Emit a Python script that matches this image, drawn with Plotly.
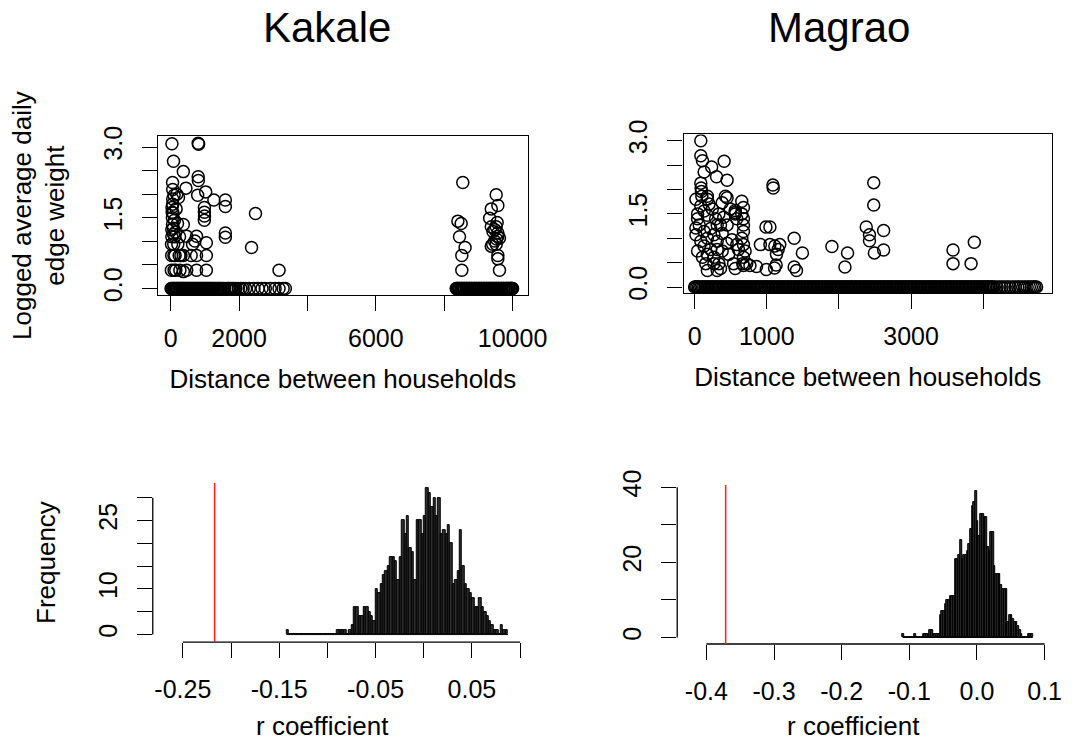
import plotly.graph_objects as go

W, H = 1084, 746
FONT = "Liberation Sans, Arial, Helvetica, sans-serif"

# ------------------------------------------------------------------ data
# Kakale: distances of household pairs with zero edge weight
kak_zero_dist = [
    12, 35, 61, 88, 104, 131, 160, 187, 205, 238, 262, 291, 318, 344, 372, 395,
    428, 451, 480, 507, 533, 566, 590, 617, 648, 671, 702, 729, 755, 786, 812,
    840, 869, 893, 925, 951, 978, 1006, 1034, 1061, 1090, 1118, 1147, 1172, 1201,
    1230, 1262, 1290, 1331, 1372, 1400, 1446, 1480, 1530, 1570, 1640, 1684, 1714,
    1765, 1810, 1860, 1906, 1980, 2050, 2120, 2193, 2300, 2433, 2560, 2672, 2768,
    2912, 3055, 3170, 3290, 3355,
    8352, 8371, 8390, 8421, 8440, 8460, 8497, 8515, 8530, 8566, 8585, 8602, 8641,
    8660, 8675, 8712, 8730, 8750, 8783, 8801, 8820, 8858, 8875, 8891, 8930, 8947,
    8965, 9002, 9020, 9040, 9071, 9090, 9110, 9146, 9163, 9180, 9218, 9236, 9255,
    9290, 9310, 9328, 9362, 9381, 9400, 9437, 9452, 9470, 9508, 9526, 9545, 9580,
    9598, 9617, 9652, 9671, 9690, 9725, 9743, 9760, 9798, 9816, 9835, 9870, 9888,
    9905, 9942, 9960, 9975, 9990, 10000,
]
# Kakale: pairs with a positive logged edge weight
kak_edge_dist = [
    37, 805, 818, 83, 370, 56, 60, 448, 805, 810,
    1025, 790, 1264, 1600, 1600, 180, 230, 987, 987, 990,
    985, 40, 45, 50, 55, 80, 85, 90, 95, 100,
    120, 130, 150, 370, 468, 757, 707, 1044, 1044, 757,
    757, 468, 1600, 1600, 2481, 2366, 3170, 200, 210, 250,
    270, 300, 160, 60, 70, 110, 140, 20, 30, 25,
    35, 35, 60, 100, 260, 372, 372, 1044, 640, 600,
    8545, 8401, 8497, 8449, 8612, 8516, 8516, 9522, 9570, 9378,
    9330, 9378, 9426, 9522, 9570, 9570, 9474, 9618, 9378, 9522,
    9570, 9570, 9618, 9480, 9530, 9420, 9550,
]
kak_edge_weight = [
    3.07, 3.08, 3.06, 2.70, 2.48, 2.25, 2.10, 2.13, 2.37, 2.29,
    2.05, 1.98, 1.88, 1.88, 1.74, 2.00, 1.93, 1.72, 1.62, 1.54,
    1.45, 1.72, 1.62, 1.50, 1.36, 1.28, 1.15, 0.94, 0.70, 0.39,
    1.10, 0.70, 0.39, 1.36, 1.11, 1.11, 1.01, 0.97, 0.70, 0.70,
    0.39, 0.39, 1.18, 1.09, 1.59, 0.87, 0.39, 1.38, 0.94, 0.70,
    0.39, 0.70, 1.69, 1.79, 1.60, 1.45, 1.20, 0.39, 0.70, 0.94,
    1.10, 1.25, 1.90, 1.98, 1.10, 0.70, 0.36, 0.39, 0.94, 0.70,
    2.25, 1.43, 1.38, 1.10, 0.87, 0.70, 0.39, 1.99, 1.76, 1.69,
    1.49, 1.31, 1.21, 1.31, 1.18, 1.11, 1.01, 1.07, 0.90, 0.94,
    0.70, 0.63, 0.39, 1.25, 1.05, 0.94, 1.40,
]

# Magrao: distances of household pairs with zero edge weight
mag_zero_dist = [
    0, 14, 31, 52, 70, 88, 109, 127, 146, 168, 186, 203, 225, 244, 262, 283, 301,
    318, 340, 357, 378, 396, 415, 437, 455, 472, 494, 511, 532, 550, 569, 590, 608,
    627, 648, 665, 687, 705, 724, 745, 763, 781, 803, 820, 842, 860, 879, 900, 918,
    937, 958, 976, 997, 1015, 1034, 1055, 1073, 1092, 1113, 1131, 1150, 1172, 1190,
    1209, 1230, 1248, 1267, 1288, 1306, 1326, 1347, 1365, 1384, 1405, 1423, 1443,
    1464, 1482, 1501, 1522, 1540, 1560, 1581, 1599, 1618, 1639, 1657, 1677, 1698,
    1716, 1735, 1756, 1774, 1794, 1815, 1833, 1852, 1873, 1891, 1911, 1932, 1950,
    1969, 1990, 2008, 2028, 2049, 2067, 2086, 2107, 2125, 2145, 2166, 2184, 2203,
    2224, 2242, 2262, 2283, 2301, 2320, 2341, 2359, 2379, 2400, 2418, 2437, 2458,
    2476, 2496, 2517, 2535, 2554, 2575, 2593, 2613, 2634, 2652, 2671, 2692, 2710,
    2730, 2751, 2769, 2788, 2809, 2827, 2847, 2868, 2886, 2905, 2926, 2944, 2964,
    2985, 3003, 3022, 3043, 3061, 3081, 3102, 3120, 3139, 3160, 3178, 3198, 3219,
    3237, 3256, 3277, 3295, 3315, 3336, 3354, 3373, 3394, 3412, 3432, 3453, 3471,
    3490, 3511, 3529, 3549, 3570, 3588, 3607, 3628, 3646, 3666, 3687, 3705, 3724,
    3745, 3763, 3783, 3804, 3822, 3841, 3862, 3880, 3900, 3921, 3939, 3958, 3979,
    3997, 4017, 4038, 4056, 4075, 4096, 4114, 4134, 4155, 4190, 4228, 4262, 4301,
    4335, 4372, 4410, 4445, 4480, 4512, 4548, 4580, 4610, 4640, 4668, 4695, 4718,
    4740,
]
# Magrao: pairs with a positive logged edge weight
mag_edge_dist = [
    86, 86, 109, 132, 236, 409, 304, 450, 86, 90,
    95, 100, 18, 41, 18, 177, 200, 382, 450, 654,
    677, 654, 677, 677, 677, 654, 677, 700, 677, 668,
    563, 563, 585, 86, 132, 177, 245, 291, 336, 359,
    223, 132, 177, 86, 268, 313, 382, 132, 223, 313,
    382, 177, 268, 336, 155, 177, 313, 359, 563, 608,
    518, 450, 585, 472, 41, 64, 18, 41, 109, 268,
    540, 722, 767, 677, 177, 427, 563, 404, 495, 450,
    313, 1085, 1090, 989, 1044, 912, 1044, 1112, 1158, 1135,
    1180, 858, 994, 1108, 1130, 1380, 1494, 1380, 1412, 1903,
    2120, 2084, 2483, 2483, 2379, 2424, 2424, 2620, 2492, 2620,
    3582, 3582, 3832, 3877,
]
mag_edge_weight = [
    3.00, 2.69, 2.59, 2.36, 2.46, 2.58, 2.26, 2.19, 2.13, 2.03,
    1.96, 1.86, 1.80, 1.50, 1.21, 1.80, 1.70, 1.73, 1.83, 1.76,
    1.63, 1.50, 1.40, 1.27, 1.14, 1.00, 0.87, 0.74, 0.61, 0.48,
    1.57, 1.50, 1.40, 1.66, 1.56, 1.47, 1.60, 1.40, 1.50, 1.27,
    1.20, 1.14, 1.00, 0.94, 1.07, 0.94, 1.10, 0.84, 0.77, 0.77,
    0.74, 0.67, 0.61, 0.48, 0.48, 0.34, 0.34, 0.38, 0.38, 0.77,
    0.97, 0.90, 0.87, 0.67, 1.40, 1.27, 1.07, 0.74, 0.61, 0.48,
    0.48, 0.48, 0.44, 0.44, 1.86, 1.86, 1.53, 1.43, 1.60, 1.27,
    1.27, 2.09, 2.03, 1.23, 1.23, 0.87, 0.87, 0.84, 0.77, 0.67,
    0.87, 0.42, 0.36, 0.39, 0.45, 1.00, 0.70, 0.41, 0.34, 0.83,
    0.70, 0.41, 2.14, 1.68, 1.23, 1.07, 0.95, 1.16, 0.70, 0.76,
    0.76, 0.48, 0.48, 0.92,
]

# Permutation distributions of the r coefficient (histogram counts)
bin_width = 0.0025
kak_first_break = -0.1425
kak_counts = [
    1, 0, 0, 0, 0, 0, 0, 0, 0, 0, 0, 0, 0, 0, 0, 0, 0, 0, 0, 0,
    0, 1, 1, 1, 1, 0, 1, 2, 6, 6, 4, 4, 6, 6, 5, 4, 3, 10, 9, 11,
    13, 14, 15, 17, 17, 16, 12, 17, 25, 22, 26, 19, 18, 12, 25, 25, 22, 26, 32, 31,
    28, 30, 26, 30, 22, 23, 22, 24, 20, 11, 12, 14, 23, 15, 11, 10, 9, 8, 6, 6,
    8, 6, 5, 4, 3, 2, 1, 1, 0, 2, 1, 1,
]
kak_r_observed = -0.217

mag_first_break = -0.11
mag_counts = [
    1, 0, 0, 0, 0, 0, 0, 1, 0, 0, 0, 0, 1, 1, 1, 1, 2, 2, 1, 1,
    1, 1, 6, 7, 7, 9, 10, 10, 11, 11, 11, 21, 21, 22, 26, 21, 22, 22, 23, 25,
    29, 35, 36, 39, 31, 27, 33, 33, 32, 32, 24, 23, 28, 28, 19, 17, 17, 17, 14, 13,
    13, 13, 4, 6, 6, 5, 4, 4, 3, 2, 1, 0, 0, 0, 1, 1, 1,
]
mag_r_observed = -0.3715

# tick values / labels (R skips overlapping labels)
kak_x_ticks = [0, 2000, 4000, 6000, 8000, 10000]
kak_x_text = ["0", "2000", "", "6000", "", "10000"]
mag_x_ticks = [0, 1000, 2000, 3000, 4000]
mag_x_text = ["0", "1000", "", "3000", ""]
w_ticks = [0, 0.5, 1.0, 1.5, 2.0, 2.5, 3.0]
w_text = ["0.0", "", "", "1.5", "", "", "3.0"]
kak_r_ticks = [-0.25, -0.20, -0.15, -0.10, -0.05, 0.0, 0.05, 0.10]
kak_r_text = ["-0.25", "", "-0.15", "", "-0.05", "", "0.05", ""]
kak_f_ticks = [0, 5, 10, 15, 20, 25, 30]
kak_f_text = ["0", "", "10", "", "", "25", ""]
mag_r_ticks = [-0.4, -0.3, -0.2, -0.1, 0.0, 0.1]
mag_r_text = ["-0.4", "-0.3", "-0.2", "-0.1", "0.0", "0.1"]
mag_f_ticks = [0, 10, 20, 30, 40]
mag_f_text = ["0", "", "20", "", "40"]


# ------------------------------------------------------------------ helpers
def dx(a, b):
    return [a / W, b / W]


def dy(top, bottom):
    return [1 - bottom / H, 1 - top / H]


circle = dict(symbol="circle-open", size=12, color="black",
              line=dict(width=1.5, color="black"))

fig = go.Figure()

fig.add_trace(go.Scatter(x=kak_zero_dist, y=[0.0] * len(kak_zero_dist),
                         mode="markers", marker=circle, xaxis="x", yaxis="y",
                         showlegend=False, hoverinfo="skip"))
fig.add_trace(go.Scatter(x=kak_edge_dist, y=kak_edge_weight, mode="markers",
                         marker=circle, xaxis="x", yaxis="y",
                         showlegend=False))
fig.add_trace(go.Scatter(x=mag_zero_dist, y=[0.0] * len(mag_zero_dist),
                         mode="markers", marker=circle, xaxis="x2", yaxis="y2",
                         showlegend=False, hoverinfo="skip"))
fig.add_trace(go.Scatter(x=mag_edge_dist, y=mag_edge_weight, mode="markers",
                         marker=circle, xaxis="x2", yaxis="y2",
                         showlegend=False))

bar_style = dict(color="#2e2e2e", line=dict(color="black", width=1.0))
kak_centers = [kak_first_break + bin_width * (i + 0.5) for i in range(len(kak_counts))]
mag_centers = [mag_first_break + bin_width * (i + 0.5) for i in range(len(mag_counts))]
fig.add_trace(go.Bar(x=kak_centers, y=kak_counts, width=bin_width,
                     marker=bar_style, xaxis="x3", yaxis="y3", showlegend=False))
fig.add_trace(go.Bar(x=mag_centers, y=mag_counts, width=bin_width,
                     marker=bar_style, xaxis="x4", yaxis="y4", showlegend=False))

tickfont = dict(family=FONT, size=25, color="black")
titlefont = dict(family=FONT, size=26, color="black")
common = dict(showgrid=False, zeroline=False, ticks="outside", ticklen=15,
              tickwidth=1.3, tickcolor="black", tickfont=tickfont,
              linecolor="black", linewidth=1.3, tickmode="array")

fig.update_layout(
    width=W, height=H, margin=dict(l=0, r=0, t=0, b=0),
    paper_bgcolor="white", plot_bgcolor="white", showlegend=False,
    font=dict(family=FONT, color="black"),
    xaxis=dict(common, domain=dx(161, 537), range=[-365, 10440],
               showline=True, mirror=True, anchor="y",
               tickvals=kak_x_ticks, ticktext=kak_x_text, ticklabelstandoff=6,
               title=dict(text="Distance between households", font=titlefont,
                          standoff=18)),
    yaxis=dict(common, domain=dy(125, 289), range=[-0.138, 3.232],
               showline=True, mirror=True, anchor="x", tickangle=-90,
               tickvals=w_ticks, ticktext=w_text, ticklabelstandoff=10,
               title=dict(text="Logged average daily<br>edge weight",
                          font=titlefont, standoff=26)),
    xaxis2=dict(common, domain=dx(695.7, 1070.7), range=[-154, 4953],
                showline=True, mirror=True, anchor="y2",
                tickvals=mag_x_ticks, ticktext=mag_x_text, ticklabelstandoff=6,
                title=dict(text="Distance between households", font=titlefont,
                           standoff=18)),
    yaxis2=dict(common, domain=dy(123.3, 286.7), range=[-0.119, 3.127],
                showline=True, mirror=True, anchor="x2", tickangle=-90,
                tickvals=w_ticks, ticktext=w_text, ticklabelstandoff=10),
    xaxis3=dict(common, domain=dx(155.5, 531.5), range=[-0.2812, 0.1022],
                showline=False, anchor="y3",
                tickvals=kak_r_ticks, ticktext=kak_r_text, ticklabelstandoff=10),
    yaxis3=dict(common, domain=dy(483, 647), range=[-1.64, 33.2],
                showline=False, anchor="x3", tickangle=-90,
                tickvals=kak_f_ticks, ticktext=kak_f_text, ticklabelstandoff=10,
                title=dict(text="Frequency", font=titlefont, standoff=30)),
    xaxis4=dict(common, domain=dx(689.3, 1065), range=[-0.4431, 0.1025],
                showline=False, anchor="y4",
                tickvals=mag_r_ticks, ticktext=mag_r_text, ticklabelstandoff=10),
    yaxis4=dict(common, domain=dy(485, 649), range=[-1.73, 40.6],
                showline=False, anchor="x4", tickangle=-90,
                tickvals=mag_f_ticks, ticktext=mag_f_text, ticklabelstandoff=10),
    bargap=0,
)

line = dict(color="black", width=1.3)
shapes = [
    # R-style axis lines that run from the first to the last tick
    dict(type="line", xref="x3", yref="y3 domain", x0=kak_r_ticks[0],
         x1=kak_r_ticks[-1], y0=0, y1=0, line=line),
    dict(type="line", xref="x3 domain", yref="y3", x0=0, x1=0,
         y0=kak_f_ticks[0], y1=kak_f_ticks[-1], line=line),
    dict(type="line", xref="x4", yref="y4 domain", x0=mag_r_ticks[0],
         x1=mag_r_ticks[-1], y0=0, y1=0, line=line),
    dict(type="line", xref="x4 domain", yref="y4", x0=0, x1=0,
         y0=mag_f_ticks[0], y1=mag_f_ticks[-1], line=line),
    # baseline of the histogram rectangles (empty bins)
    dict(type="line", xref="x3", yref="y3", x0=kak_first_break,
         x1=kak_first_break + bin_width * len(kak_counts), y0=0, y1=0,
         line=dict(color="black", width=1), layer="below"),
    dict(type="line", xref="x4", yref="y4", x0=mag_first_break,
         x1=mag_first_break + bin_width * len(mag_counts), y0=0, y1=0,
         line=dict(color="black", width=1), layer="below"),
    # observed r coefficients
    dict(type="line", xref="x3", yref="y3 domain", x0=kak_r_observed,
         x1=kak_r_observed, y0=0, y1=1, line=dict(color="#ff2020", width=1.5)),
    dict(type="line", xref="x4", yref="y4 domain", x0=mag_r_observed,
         x1=mag_r_observed, y0=0, y1=1, line=dict(color="#ff2020", width=1.5)),
]
fig.update_layout(shapes=shapes)

annotations = [
    dict(text="Kakale", x=332.5 / W, y=1 - 13 / H, xref="paper", yref="paper",
         xanchor="center", yanchor="middle", showarrow=False,
         font=dict(family=FONT, size=42, color="black")),
    dict(text="Magrao", x=854 / W, y=1 - 13 / H, xref="paper", yref="paper",
         xanchor="center", yanchor="middle", showarrow=False,
         font=dict(family=FONT, size=42, color="black")),
    dict(text="r coefficient", x=328.3 / W, y=1 - 734 / H, xref="paper",
         yref="paper", xanchor="center", yanchor="middle", showarrow=False,
         font=titlefont),
    dict(text="r coefficient", x=869 / W, y=1 - 734 / H, xref="paper",
         yref="paper", xanchor="center", yanchor="middle", showarrow=False,
         font=titlefont),
]
fig.update_layout(annotations=annotations)

fig.write_html("out.html")
